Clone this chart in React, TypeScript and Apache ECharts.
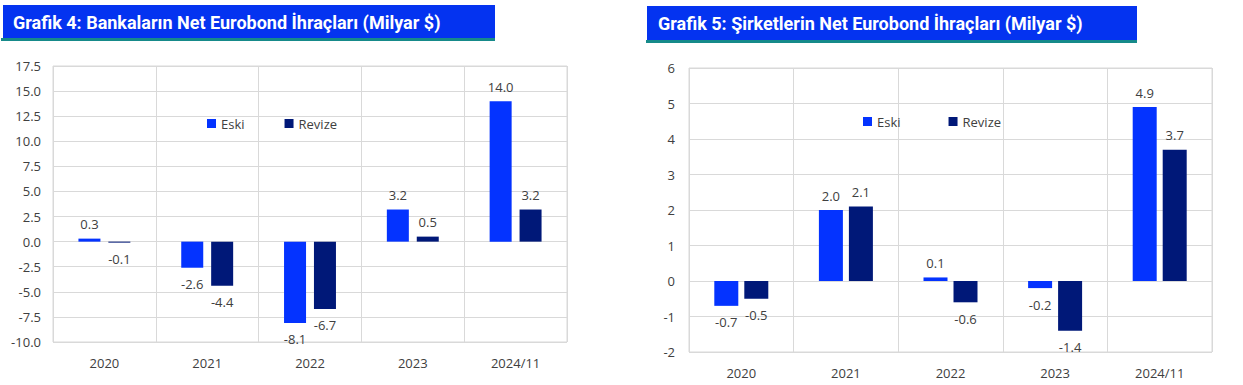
import React, { useEffect, useRef } from "react";
import * as echarts from "echarts";

const categories = ["2020", "2021", "2022", "2023", "2024/11"];
const bankEski = [0.3, -2.6, -8.1, 3.2, 14.0];
const bankRevize = [-0.1, -4.4, -6.7, 0.5, 3.2];
const corpEski = [-0.7, 2.0, 0.1, -0.2, 4.9];
const corpRevize = [-0.5, 2.1, -0.6, -1.4, 3.7];
const title1 = "Grafik 4: Bankaların Net Eurobond İhraçları (Milyar $)";
const title2 = "Grafik 5: Şirketlerin Net Eurobond İhraçları (Milyar $)";

const ESKI = "#0433ff";
const REVIZE = "#001878";
const GRID = "#d9d9d9";
const TXT = "#404040";
const FONT = "'Open Sans', 'Noto Sans', sans-serif";

function toData(vals: number[]) {
  return vals.map((v) => ({
    value: v,
    label: { position: v >= 0 ? "top" : "bottom", distance: v >= 0 ? 8 : 10 },
  }));
}

export default function App() {
  const ref = useRef<HTMLDivElement>(null);
  useEffect(() => {
    if (!ref.current) return;
    const chart = echarts.init(ref.current, undefined, { renderer: "svg" });
    const xAxisBase = {
      type: "category",
      data: categories,
      axisTick: { show: false },
      axisLine: { show: false },
      axisLabel: { color: TXT, fontSize: 13, fontFamily: FONT, margin: 14 },
      splitLine: { show: true, interval: 0, lineStyle: { color: GRID } },
    };
    const yAxisBase = {
      type: "value",
      axisLine: { show: false },
      axisTick: { show: false },
      splitLine: { show: true, lineStyle: { color: GRID } },
    };
    const labelBase = {
      show: true,
      color: TXT,
      fontSize: 13,
      fontFamily: FONT,
      formatter: (p: any) => Number(p.value).toFixed(1),
    };
    const titleFont = "bold 18px Roboto, 'Noto Sans', sans-serif";
    chart.setOption({
      animation: false,
      backgroundColor: "#ffffff",
      graphic: [
        { type: "rect", shape: { x: 3, y: 5, width: 492, height: 34 }, style: { fill: "#0433f0" } },
        { type: "rect", shape: { x: 1, y: 38, width: 494, height: 3 }, style: { fill: "#168a8a" } },
        {
          type: "text",
          x: 13,
          y: 22,
          style: { text: title1, fill: "#ffffff", font: titleFont, verticalAlign: "middle" },
        },
        { type: "rect", shape: { x: 647, y: 6, width: 490, height: 35 }, style: { fill: "#0433f0" } },
        { type: "rect", shape: { x: 646, y: 40, width: 491, height: 3 }, style: { fill: "#168a8a" } },
        {
          type: "text",
          x: 658,
          y: 23,
          style: { text: title2, fill: "#ffffff", font: titleFont, verticalAlign: "middle" },
        },
      ],
      legend: [
        {
          left: 202,
          top: 112,
          itemWidth: 9,
          itemHeight: 9,
          itemGap: 40,
          icon: "rect",
          textStyle: { color: TXT, fontSize: 13, fontFamily: FONT },
          data: ["Eski", "Revize"],
        },
        {
          left: 858,
          top: 110,
          itemWidth: 9,
          itemHeight: 9,
          itemGap: 48,
          icon: "rect",
          textStyle: { color: TXT, fontSize: 13, fontFamily: FONT },
          data: ["Eski", "Revize"],
        },
      ],
      grid: [
        { left: 53, top: 66, width: 514, height: 276, show: true, borderColor: GRID, borderWidth: 1 },
        { left: 689, top: 68, width: 523, height: 284, show: true, borderColor: GRID, borderWidth: 1 },
      ],
      xAxis: [
        { ...xAxisBase, gridIndex: 0 },
        { ...xAxisBase, gridIndex: 1 },
      ],
      yAxis: [
        {
          ...yAxisBase,
          gridIndex: 0,
          min: -10,
          max: 17.5,
          interval: 2.5,
          axisLabel: {
            color: TXT,
            fontSize: 13,
            fontFamily: FONT,
            margin: 12,
            formatter: (v: number) => v.toFixed(1),
          },
        },
        {
          ...yAxisBase,
          gridIndex: 1,
          min: -2,
          max: 6,
          interval: 1,
          axisLabel: { color: TXT, fontSize: 13, fontFamily: FONT, margin: 14 },
        },
      ],
      series: [
        {
          name: "Eski",
          type: "bar",
          xAxisIndex: 0,
          yAxisIndex: 0,
          barWidth: 22,
          barGap: "36%",
          itemStyle: { color: ESKI },
          label: labelBase,
          data: toData(bankEski),
        },
        {
          name: "Revize",
          type: "bar",
          xAxisIndex: 0,
          yAxisIndex: 0,
          barWidth: 22,
          barGap: "36%",
          itemStyle: { color: REVIZE },
          label: labelBase,
          data: toData(bankRevize),
        },
        {
          name: "Eski",
          type: "bar",
          xAxisIndex: 1,
          yAxisIndex: 1,
          barWidth: 24,
          barGap: "25%",
          itemStyle: { color: ESKI },
          label: labelBase,
          data: toData(corpEski),
        },
        {
          name: "Revize",
          type: "bar",
          xAxisIndex: 1,
          yAxisIndex: 1,
          barWidth: 24,
          barGap: "25%",
          itemStyle: { color: REVIZE },
          label: labelBase,
          data: toData(corpRevize),
        },
      ],
    });
    return () => chart.dispose();
  }, []);
  return (
    <div
      ref={ref}
      style={{ position: "fixed", left: 0, top: 0, width: 1243, height: 385 }}
    />
  );
}
